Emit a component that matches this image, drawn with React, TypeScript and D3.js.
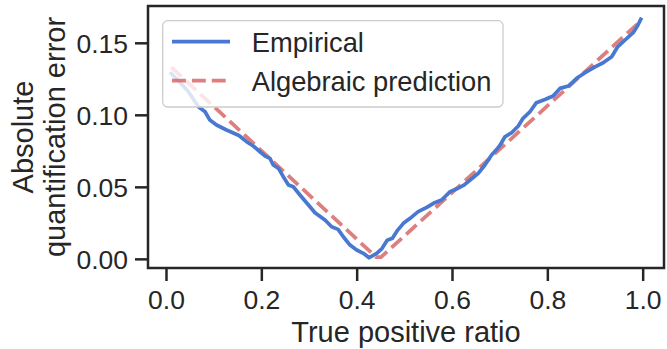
import React from 'react';
import * as d3 from 'd3';

// True positive ratio vs. absolute error
const tprEmpirical = [
  0.01, 0.028, 0.046, 0.067, 0.081, 0.091, 0.105, 0.126, 0.152, 0.168,
  0.182, 0.196, 0.207, 0.217, 0.224, 0.235, 0.245, 0.256, 0.266, 0.28,
  0.301, 0.3115, 0.3325, 0.3465, 0.36, 0.371, 0.385, 0.399, 0.413, 0.425,
  0.441, 0.452, 0.463, 0.474, 0.485, 0.497, 0.511, 0.528, 0.546, 0.56,
  0.577, 0.595, 0.609, 0.624, 0.637, 0.654, 0.668, 0.682, 0.693, 0.7,
  0.71, 0.724, 0.738, 0.748, 0.7625, 0.776, 0.794, 0.811, 0.8255, 0.843,
  0.8605, 0.878, 0.899, 0.916, 0.934, 0.9465, 0.962, 0.979, 0.988, 0.995,
];
const errEmpirical = [
  0.129, 0.123, 0.1164, 0.106, 0.1025, 0.0967, 0.0933, 0.0898, 0.086, 0.0817,
  0.0787, 0.0747, 0.0717, 0.0701, 0.0655, 0.0632, 0.0574, 0.0516, 0.0504, 0.0447,
  0.0365, 0.0324, 0.0273, 0.0226, 0.0208, 0.0157, 0.0099, 0.0065, 0.0042, 0.0011,
  0.0042, 0.0075, 0.0132, 0.0146, 0.0203, 0.025, 0.0285, 0.0331, 0.0361, 0.0389,
  0.0412, 0.047, 0.049, 0.0515, 0.0551, 0.0597, 0.0655, 0.0724, 0.0764, 0.0794,
  0.0851, 0.0879, 0.0926, 0.0979, 0.1025, 0.1088, 0.111, 0.1134, 0.1187, 0.1203,
  0.1257, 0.1296, 0.1337, 0.1365, 0.1407, 0.1476, 0.1523, 0.1574, 0.162, 0.1667,
];

const tprPredicted = [0.01, 0.44, 0.45, 0.995];
const errPredicted = [0.1335, 0.0015, 0.0015, 0.1655];

const xTicks = [0, 0.2, 0.4, 0.6, 0.8, 1.0];
const yTicks = [0, 0.05, 0.1, 0.15];
const legendLabels = ['Empirical', 'Algebraic prediction'];

const W = 667;
const H = 349;
const FONT = '"Liberation Sans", Arial, sans-serif';
const INK = '#262626';
const BLUE = '#4878d0';
const RED = '#d65f5f';

export default function App() {
  const left = 148, right = 664, top = 6, bottom = 268;

  const x = d3.scaleLinear().domain([-0.0388, 1.0437]).range([left, right]);
  const y = d3.scaleLinear().domain([-0.0060, 0.1759]).range([bottom, top]);

  const line = d3.line<[number, number]>()
    .x(d => x(d[0]))
    .y(d => y(d[1]));

  const empirical = tprEmpirical.map((t, i) => [t, errEmpirical[i]] as [number, number]);
  const predicted = tprPredicted.map((t, i) => [t, errPredicted[i]] as [number, number]);

  const tickLen = 13;
  const tickFont = 26.5;
  const legendFont = 27.3;
  const labelFont = 29;

  return (
    <div style={{ position: 'absolute', left: 0, top: 0 }}>
      <svg width={W} height={H} style={{ display: 'block', fontFamily: FONT }}>
        <rect width={W} height={H} fill="#fff" />

        <path d={line(predicted) ?? ''} fill="none" stroke={RED} strokeOpacity={0.8}
          strokeWidth={3.75} strokeDasharray="13.9 6" />
        <path d={line(empirical) ?? ''} fill="none" stroke={BLUE}
          strokeWidth={3.7} strokeLinejoin="round" strokeLinecap="square" />

        {/* legend */}
        <rect x={162.7} y={20.7} width={340.3} height={86.3} rx={5}
          fill="#fff" fillOpacity={0.8} stroke="#cccccc" strokeWidth={1.3} />
        <line x1={172} x2={230} y1={41.7} y2={41.7} stroke={BLUE} strokeWidth={3.7} />
        <line x1={172} x2={230} y1={80.7} y2={80.7} stroke={RED} strokeOpacity={0.8}
          strokeWidth={3.75} strokeDasharray="13.9 6" />
        {legendLabels.map((l, i) => (
          <text key={l} x={251.7} y={i === 0 ? 41.7 : 80.7} dy="0.36em"
            fontSize={legendFont} fill={INK}>{l}</text>
        ))}

        {/* spines */}
        <rect x={left} y={top} width={right - left} height={bottom - top}
          fill="none" stroke={INK} strokeWidth={2.5} />

        {/* x axis */}
        {xTicks.map(t => (
          <g key={t}>
            <line x1={x(t)} x2={x(t)} y1={bottom} y2={bottom + tickLen}
              stroke={INK} strokeWidth={2.5} />
            <text x={x(t)} y={309} textAnchor="middle" fontSize={tickFont} fill={INK}>
              {t.toFixed(1)}
            </text>
          </g>
        ))}
        <text x={(left + right) / 2} y={341.5} textAnchor="middle" fontSize={labelFont}
          fill={INK}>True positive ratio</text>

        {/* y axis */}
        {yTicks.map(t => (
          <g key={t}>
            <line x1={left - tickLen} x2={left} y1={y(t)} y2={y(t)}
              stroke={INK} strokeWidth={2.5} />
            <text x={128} y={y(t)} dy="0.36em" textAnchor="end" fontSize={tickFont} fill={INK}>
              {t.toFixed(2)}
            </text>
          </g>
        ))}
        <g transform={`translate(0, ${(top + bottom) / 2}) rotate(-90)`}>
          <text x={0} y={23} dy="0.36em" textAnchor="middle" fontSize={labelFont} fill={INK}>
            Absolute
          </text>
          <text x={0} y={55} dy="0.36em" textAnchor="middle" fontSize={labelFont} fill={INK}>
            quantification error
          </text>
        </g>
      </svg>
    </div>
  );
}
